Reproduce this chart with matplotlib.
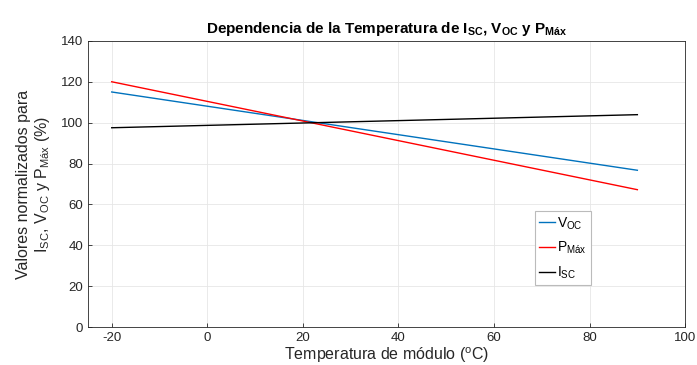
import matplotlib
matplotlib.use("Agg")
import matplotlib.pyplot as plt

plt.rcParams.update({
    "font.family": ["Liberation Sans", "DejaVu Sans"],
    "mathtext.fontset": "custom",
    "mathtext.rm": "Liberation Sans",
    "mathtext.it": "Liberation Sans",
    "mathtext.bf": "Liberation Sans:bold",
    "axes.unicode_minus": False,
})

temp = [-20, 90]
voc = [115.0, 76.7]
pmax = [120.0, 67.2]
isc = [97.5, 103.9]

fig = plt.figure(figsize=(6.97, 3.65), dpi=100)
ax = fig.add_axes([0.126, 0.104, 0.857, 0.784])

ax.plot(temp, voc, color="#0072BD", lw=1.0, label=r"V$_{\rm OC}$")
ax.plot(temp, pmax, color="#FF0000", lw=1.0, label=r"P$_{\rm Máx}$")
ax.plot(temp, isc, color="black", lw=1.0, label=r"I$_{\rm SC}$")

ax.set_xlim(-25, 100)
ax.set_ylim(0, 140)
ax.set_xticks(range(-20, 101, 20))
ax.set_yticks(range(0, 141, 20))
ax.grid(True, color="#e6e6e6", lw=0.6)
ax.set_axisbelow(True)
for s in ax.spines.values():
    s.set_color("#262626")
    s.set_linewidth(0.6)
ax.tick_params(direction="in", length=3, width=0.6, colors="#262626", labelsize=9.5)

ax.set_xlabel(r"Temperatura de módulo ($^{\rm o}$C)", fontsize=11.5, color="#262626", labelpad=1)
ax.set_ylabel("Valores normalizados para\n" + r"I$_{\rm SC}$, V$_{\rm OC}$ y P$_{\rm Máx}$ (%)",
              fontsize=11.5, color="#262626", labelpad=6)
ax.set_title(r"Dependencia de la Temperatura de I$_{\mathbf{SC}}$, V$_{\mathbf{OC}}$ y P$_{\mathbf{Máx}}$",
             fontsize=11, fontweight="bold", pad=6)

leg = ax.legend(loc="upper left", bbox_to_anchor=(0.749, 0.405), fontsize=10,
                handlelength=1.1, handletextpad=0.15, borderpad=0.3, borderaxespad=0,
                labelspacing=0.6, fancybox=False, framealpha=1)
leg.get_frame().set_edgecolor("#bbbbbb")
leg.get_frame().set_linewidth(0.8)

fig.savefig("out.png", dpi=100)
